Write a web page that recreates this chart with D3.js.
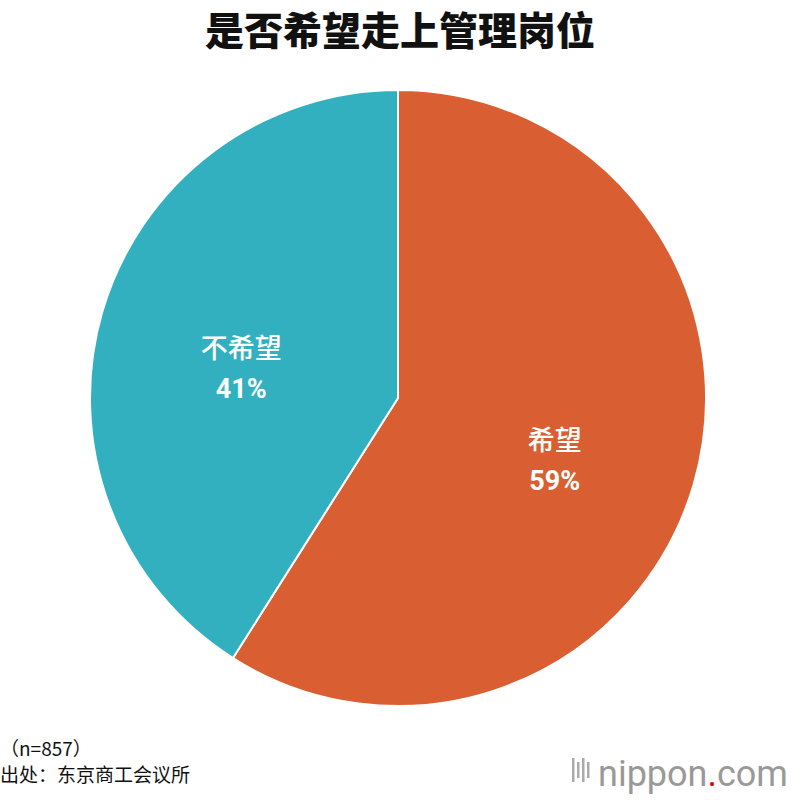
<!DOCTYPE html>
<html><head><meta charset="utf-8">
<script src="https://cdn.jsdelivr.net/npm/d3@7"></script>
<style>body{margin:0;background:#fff;font-family:"Noto Sans CJK SC","Noto Sans",sans-serif;}</style>
</head><body>
<svg id="c" width="800" height="800"></svg>
<script>
const categories = ["希望", "不希望"];
const values = [59, 41];
const colors = ["#D95F32", "#33B0BF"];
const title = "是否希望走上管理岗位";
const notes = ["（n=857）", "出处：东京商工会议所"];

const svg = d3.select("#c");
const cx = 398, cy = 398, r = 308;
svg.append("text").attr("x", 400).attr("y", 45).attr("text-anchor", "middle")
  .attr("font-size", 39).attr("font-weight", 900).attr("fill", "#111").text(title);

const pie = d3.pie().sort(null).value(d => d)(values);
const arc = d3.arc().innerRadius(0).outerRadius(r);
const g = svg.append("g").attr("transform", `translate(${cx},${cy})`);
g.selectAll("path").data(pie).join("path").attr("d", arc)
  .attr("fill", (d, i) => colors[i]).attr("stroke", "#fff").attr("stroke-width", 2);

const lab = d3.arc().innerRadius(r * 0.53).outerRadius(r * 0.53);
pie.forEach((d, i) => {
  const [x, y] = lab.centroid(d);
  const t = g.append("text").attr("text-anchor", "middle").attr("fill", "#fff").attr("font-size", 27);
  t.append("tspan").attr("x", x).attr("y", y + 6).attr("font-weight", 500).text(categories[i]);
  t.append("tspan").attr("x", x).attr("y", y + 46).attr("font-weight", 700).attr("font-family", "Roboto, sans-serif").text(values[i] + "%");
});

notes.forEach((n, i) => svg.append("text").attr("x", 0).attr("y", 756 + i * 26)
  .attr("font-size", 19).attr("fill", "#111").text(n));

const lg = svg.append("g");
[0,1,2,3].forEach(i => lg.append("rect").attr("x", 572 + i * 5).attr("y", 766 - (i%2?4:8)).attr("width", 2.5).attr("height", i%2?16:24).attr("fill", "#aaa"));
const lt = lg.append("text").attr("x", 598).attr("y", 786).attr("font-size", 36).attr("fill", "#999").attr("font-family", "Roboto, sans-serif");
lt.append("tspan").text("nippon");
lt.append("tspan").attr("fill", "#e60012").text(".");
lt.append("tspan").text("com");
</script>
</body></html>
